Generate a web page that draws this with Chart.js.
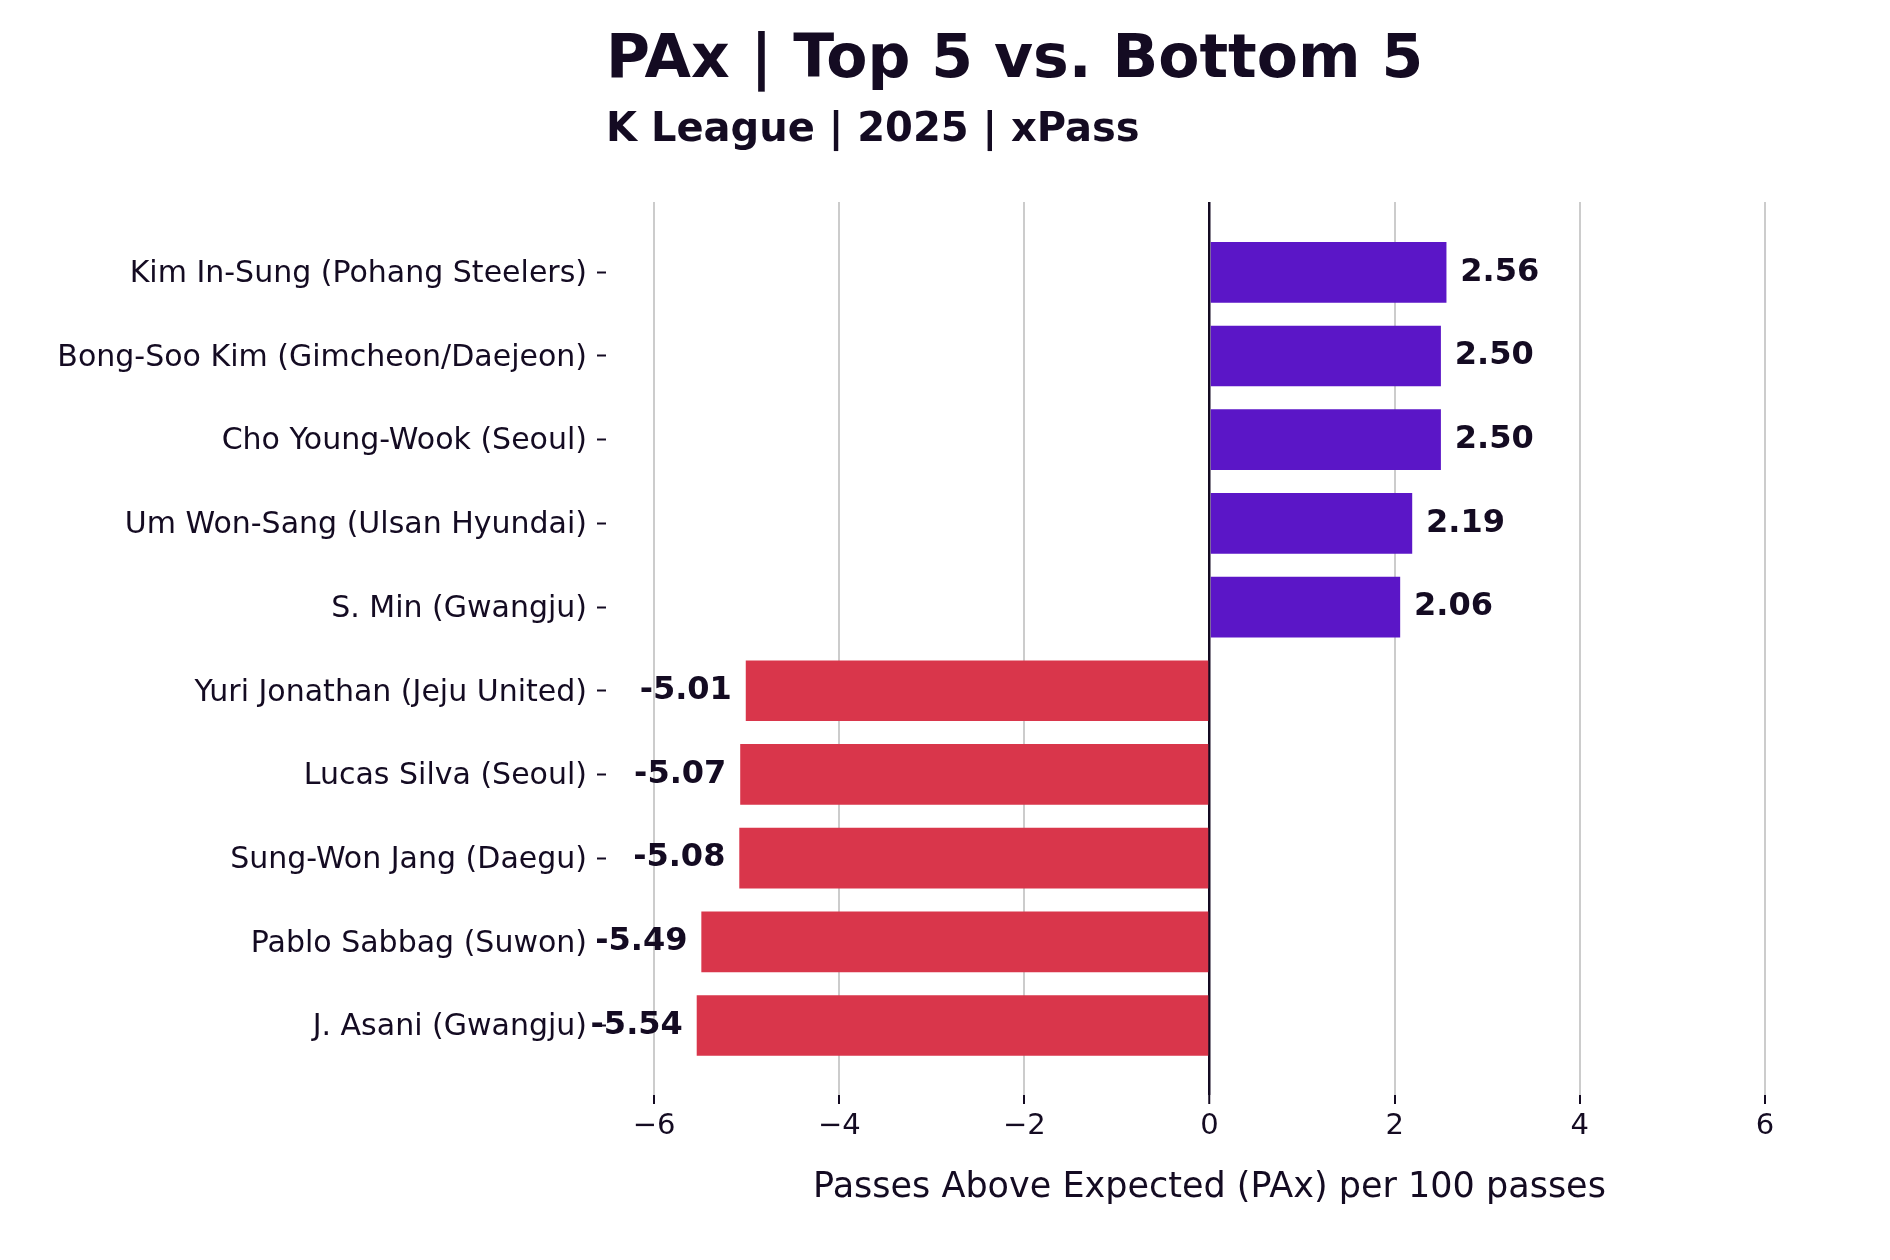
<!DOCTYPE html>
<html>
<head>
<meta charset="utf-8">
<script src="https://cdn.jsdelivr.net/npm/chart.js@4.4.1/dist/chart.umd.min.js"></script>
<style>
  body { margin: 0; background: #ffffff; }
  .wrap { position: relative; width: 1890px; height: 1260px; }
  .title, .subtitle {
    position: absolute;
    left: 606px;
    margin: 0;
    font-family: "DejaVu Sans", sans-serif;
    font-weight: bold;
    color: #140b22;
    line-height: 1;
    white-space: nowrap;
  }
  .title { top: 26px; font-size: 60px; }
  .subtitle { top: 107px; font-size: 40px; }
</style>
</head>
<body>
<div class="wrap">
  <h1 class="title">PAx | Top 5 vs. Bottom 5</h1>
  <h2 class="subtitle">K League | 2025 | xPass</h2>
  <canvas id="pax-chart" width="1890" height="1260"></canvas>
</div>
<script>
// players from top to bottom, as in the picture
const players = [
  "Kim In-Sung (Pohang Steelers)",
  "Bong-Soo Kim (Gimcheon/Daejeon)",
  "Cho Young-Wook (Seoul)",
  "Um Won-Sang (Ulsan Hyundai)",
  "S. Min (Gwangju)",
  "Yuri Jonathan (Jeju United)",
  "Lucas Silva (Seoul)",
  "Sung-Won Jang (Daegu)",
  "Pablo Sabbag (Suwon)",
  "J. Asani (Gwangju)",
];
// PAx per 100 passes
const paxValues = [2.56, 2.5, 2.5, 2.19, 2.06, -5.01, -5.07, -5.08, -5.49, -5.54];
const xTickValues = [-6, -4, -2, 0, 2, 4, 6];

const textColor = "#140b22";
const topColor = "#5b16c7";
const bottomColor = "#d9364b";

Chart.defaults.font.family = "'DejaVu Sans', sans-serif";
Chart.defaults.color = textColor;

// writes the value next to the end of each bar
const barValueLabels = {
  id: "barValueLabels",
  afterDatasetsDraw(chart) {
    const ctx = chart.ctx;
    const xScale = chart.scales.x;
    const meta = chart.getDatasetMeta(0);
    ctx.save();
    ctx.font = "bold 32px 'DejaVu Sans', sans-serif";
    ctx.fillStyle = textColor;
    ctx.textBaseline = "middle";
    meta.data.forEach((bar, i) => {
      const value = paxValues[i];
      const offset = value >= 0 ? 0.15 : -0.15;
      ctx.textAlign = value >= 0 ? "left" : "right";
      ctx.fillText(value.toFixed(2), xScale.getPixelForValue(value + offset), bar.y);
    });
    ctx.restore();
  },
};

const canvas = document.getElementById("pax-chart");

new Chart(canvas, {
  type: "bar",
  data: {
    datasets: [
      {
        data: paxValues.map((v, i) => ({ x: v, y: i })),
        backgroundColor: paxValues.map((v) => (v >= 0 ? topColor : bottomColor)),
        borderWidth: 0,
        barPercentage: 0.725,
        categoryPercentage: 1,
      },
    ],
  },
  options: {
    indexAxis: "y",
    responsive: false,
    devicePixelRatio: 1,
    animation: false,
    layout: { padding: { top: 202, right: 77, bottom: 0, left: 0 } },
    plugins: {
      legend: { display: false },
      tooltip: { enabled: false },
    },
    scales: {
      x: {
        type: "linear",
        min: -6.52,
        max: 6.52,
        afterBuildTicks: (scale) => {
          scale.ticks = xTickValues.map((v) => ({ value: v }));
        },
        afterFit: (scale) => {
          scale.height = 165;
        },
        border: { display: false },
        grid: {
          color: (c) => (c.tick && c.tick.value === 0 ? textColor : "#cccccc"),
          lineWidth: (c) => (c.tick && c.tick.value === 0 ? 2.5 : 2),
          tickColor: textColor,
          tickWidth: 2,
          tickLength: 9,
        },
        ticks: {
          padding: 5,
          font: { size: 29 },
          color: textColor,
          callback: (v) => (v < 0 ? "\u2212" + Math.abs(v) : String(v)),
        },
        title: {
          display: true,
          text: "Passes Above Expected (PAx) per 100 passes",
          font: { size: 35 },
          color: textColor,
          padding: { top: 0, bottom: 51 },
        },
      },
      y: {
        type: "linear",
        reverse: true,
        offset: false,
        min: -0.84,
        max: 9.83,
        afterBuildTicks: (scale) => {
          scale.ticks = players.map((p, i) => ({ value: i }));
        },
        afterFit: (scale) => {
          scale.width = 606;
        },
        border: { display: false },
        grid: {
          offset: false,
          drawOnChartArea: false,
          tickColor: textColor,
          tickWidth: 2,
          tickLength: 9,
        },
        ticks: {
          padding: 10,
          labelOffset: 2,
          font: { size: 30 },
          color: textColor,
          callback: (v) => players[v],
        },
      },
    },
  },
  plugins: [barValueLabels],
});
</script>
</body>
</html>
